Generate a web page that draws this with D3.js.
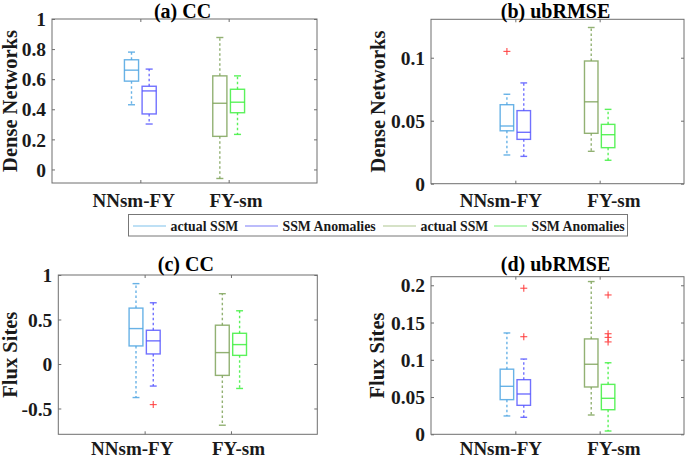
<!DOCTYPE html>
<html>
<head>
<meta charset="utf-8">
<script src="https://cdn.jsdelivr.net/npm/d3@7"></script>
<style>
  body { margin: 0; background: #fff; }
  svg { display: block; font-family: "Liberation Serif", "Times New Roman", serif; font-weight: bold; }
</style>
</head>
<body>
<div id="container"></div>
<script>
// categories and series
const groups = ['NNsm-FY', 'FY-sm'];
const seriesNames = ['actual SSM', 'SSM Anomalies', 'actual SSM', 'SSM Anomalies'];
const seriesColors = ['#4ea4e2', '#5858ff', '#7fa35a', '#3ef03e'];
const legendColors = ['#a8d6f2', '#a6a6fa', '#c8d8b4', '#a6f6a6'];

// box stats per box: [low whisker, q1, median, q3, high whisker]
// box order: NNsm-FY actual, NNsm-FY anomalies, FY-sm actual, FY-sm anomalies
const ccDense = [
  [0.43, 0.587, 0.66, 0.729, 0.78],
  [0.302, 0.369, 0.522, 0.553, 0.667],
  [-0.06, 0.22, 0.44, 0.622, 0.877],
  [0.233, 0.377, 0.447, 0.533, 0.622]
];
const ccDenseOut = [[], [], [], []];

const rmseDense = [
  [0.0228, 0.042, 0.0458, 0.0627, 0.071],
  [0.0217, 0.0352, 0.0408, 0.058, 0.080],
  [0.0257, 0.040, 0.065, 0.0974, 0.124],
  [0.0186, 0.0286, 0.0389, 0.0471, 0.059]
];
const rmseDenseOut = [[0.105], [], [], []];

const ccFlux = [
  [-0.377, 0.203, 0.398, 0.628, 0.903],
  [-0.248, 0.113, 0.26, 0.379, 0.688],
  [-0.688, -0.128, 0.128, 0.436, 0.79],
  [-0.275, 0.097, 0.218, 0.345, 0.598]
];
const ccFluxOut = [[], [-0.456], [], []];

const rmseFlux = [
  [0.0246, 0.0465, 0.0644, 0.0874, 0.136],
  [0.0228, 0.0389, 0.0541, 0.0733, 0.101],
  [0.0259, 0.0635, 0.094, 0.128, 0.205],
  [0.0044, 0.033, 0.0483, 0.067, 0.096]
];
const rmseFluxOut = [[], [0.196, 0.131], [], [0.187, 0.135, 0.130, 0.124]];

// tick values
const ticksCC1 = [0, 0.2, 0.4, 0.6, 0.8, 1];
const ticksRmse1 = [0, 0.05, 0.1];
const ticksCC2 = [-0.5, 0, 0.5, 1];
const ticksRmse2 = [0, 0.05, 0.1, 0.15, 0.2];

// group label centres (x units), they sit off the tick marks in the original
const labPosA = [0.925, 2.083];
const labPosB = [0.828, 2.169];
const labPosC = [0.857, 2.087];
const labPosD = [0.828, 2.169];

const panels = [
  { title: '(a) CC', ylabel: 'Dense Networks', stats: ccDense, out: ccDenseOut, ticks: ticksCC1, labPos: labPosA,
    domain: [-0.09, 1], x0: 52, x1: 317, y0: 19, y1: 183, titleY: 17.8, labY: 207, ylabX: 16.5 },
  { title: '(b) ubRMSE', ylabel: 'Dense Networks', stats: rmseDense, out: rmseDenseOut, ticks: ticksRmse1, labPos: labPosB,
    domain: [0, 0.1305], x0: 431, x1: 684, y0: 19.3, y1: 183.7, titleY: 17.8, labY: 207, ylabX: 384.5 },
  { title: '(c) CC', ylabel: 'Flux Sites', stats: ccFlux, out: ccFluxOut, ticks: ticksCC2, labPos: labPosC,
    domain: [-0.79, 1], x0: 58.3, x1: 317.3, y0: 275, y1: 434.3, titleY: 270.5, labY: 454.5, ylabX: 16.5 },
  { title: '(d) ubRMSE', ylabel: 'Flux Sites', stats: rmseFlux, out: rmseFluxOut, ticks: ticksRmse2, labPos: labPosD,
    domain: [0, 0.2115], x0: 431, x1: 684, y0: 276.7, y1: 434.3, titleY: 270.5, labY: 454.5, ylabX: 384 }
];

const width = 685, height = 459;
const svg = d3.select('#container').append('svg')
  .attr('width', width)
  .attr('height', height);

const boxOffset = [-0.1, 0.1, -0.1, 0.1];
const boxW = 0.16;

panels.forEach(drawPanel);
drawLegend();

function drawPanel(p) {
  const x = d3.scaleLinear().domain([0, 3]).range([p.x0, p.x1]);
  const y = d3.scaleLinear().domain(p.domain).range([p.y1, p.y0]);
  const g = svg.append('g');

  // boxes
  p.stats.forEach((s, i) => {
    const pos = Math.floor(i / 2) + 1 + boxOffset[i];
    const col = seriesColors[i];
    const bl = x(pos - boxW / 2), br = x(pos + boxW / 2), cx = x(pos);
    const cl = x(pos - boxW / 4), cr = x(pos + boxW / 4);
    const b = g.append('g')
      .attr('fill', 'none')
      .attr('stroke', col)
      .attr('stroke-width', 1.4)
      .attr('stroke-opacity', 0.85);

    // whiskers
    b.append('line')
      .attr('x1', cx).attr('x2', cx)
      .attr('y1', y(s[3])).attr('y2', y(s[4]))
      .attr('stroke-dasharray', '2.5,2.5');
    b.append('line')
      .attr('x1', cx).attr('x2', cx)
      .attr('y1', y(s[1])).attr('y2', y(s[0]))
      .attr('stroke-dasharray', '2.5,2.5');
    // caps
    [s[0], s[4]].forEach(v => {
      b.append('line')
        .attr('x1', cl).attr('x2', cr)
        .attr('y1', y(v)).attr('y2', y(v));
    });
    // box
    b.append('rect')
      .attr('x', bl).attr('y', y(s[3]))
      .attr('width', br - bl)
      .attr('height', y(s[1]) - y(s[3]));
    // median
    b.append('line')
      .attr('x1', bl).attr('x2', br)
      .attr('y1', y(s[2])).attr('y2', y(s[2]));

    // outliers
    p.out[i].forEach(v => {
      const oy = y(v);
      const m = g.append('g')
        .attr('stroke', '#ff3c3c')
        .attr('stroke-width', 1.2)
        .attr('stroke-opacity', 0.85);
      m.append('line').attr('x1', cx - 3.5).attr('x2', cx + 3.5).attr('y1', oy).attr('y2', oy);
      m.append('line').attr('x1', cx).attr('x2', cx).attr('y1', oy - 3.5).attr('y2', oy + 3.5);
    });
  });

  // frame
  g.append('rect')
    .attr('x', p.x0).attr('y', p.y0)
    .attr('width', p.x1 - p.x0)
    .attr('height', p.y1 - p.y0)
    .attr('fill', 'none')
    .attr('stroke', '#6e6e6e')
    .attr('stroke-width', 1);

  // axes with inward ticks
  const left = g.append('g')
    .attr('transform', `translate(${p.x0},0)`)
    .call(d3.axisLeft(y).tickValues(p.ticks).tickSize(-3).tickPadding(6).tickFormat(d => String(d)));
  g.append('g')
    .attr('transform', `translate(${p.x1},0)`)
    .call(d3.axisRight(y).tickValues(p.ticks).tickSize(-3).tickFormat(''));
  g.append('g')
    .attr('transform', `translate(0,${p.y1})`)
    .call(d3.axisBottom(x).tickValues([1, 2]).tickSize(-3).tickFormat(''));
  g.append('g')
    .attr('transform', `translate(0,${p.y0})`)
    .call(d3.axisTop(x).tickValues([1, 2]).tickSize(-3).tickFormat(''));

  g.selectAll('.domain').remove();
  g.selectAll('.tick line').attr('stroke', '#6e6e6e');
  left.selectAll('.tick text')
    .attr('font-size', 19.5)
    .attr('font-family', '"Liberation Serif", serif')
    .attr('font-weight', 'bold')
    .attr('fill', '#1a1a1a')
    .attr('dy', '0.34em');

  // category labels
  groups.forEach((name, i) => {
    g.append('text')
      .attr('x', x(p.labPos[i]))
      .attr('y', p.labY)
      .attr('text-anchor', 'middle')
      .attr('font-size', 19)
      .attr('fill', '#1a1a1a')
      .text(name);
  });

  // title
  g.append('text')
    .attr('x', (p.x0 + p.x1) / 2 - 2)
    .attr('y', p.titleY)
    .attr('text-anchor', 'middle')
    .attr('font-size', 20)
    .attr('fill', '#000')
    .text(p.title);

  // y label
  g.append('text')
    .attr('transform', `translate(${p.ylabX},${(p.y0 + p.y1) / 2}) rotate(-90)`)
    .attr('text-anchor', 'middle')
    .attr('font-size', 20.5)
    .attr('fill', '#1a1a1a')
    .text(p.ylabel);
}

function drawLegend() {
  const lg = svg.append('g');
  lg.append('rect')
    .attr('x', 128.5).attr('y', 214.5)
    .attr('width', 499).attr('height', 21.5)
    .attr('fill', '#fff')
    .attr('stroke', '#777')
    .attr('stroke-width', 1);

  const lineX = [133, 245, 383, 494];
  seriesNames.forEach((name, i) => {
    lg.append('line')
      .attr('x1', lineX[i]).attr('x2', lineX[i] + 33)
      .attr('y1', 226).attr('y2', 226)
      .attr('stroke', legendColors[i])
      .attr('stroke-width', 1.4);
    lg.append('text')
      .attr('x', lineX[i] + 37.5)
      .attr('y', 230.5)
      .attr('font-size', 13.8)
      .attr('fill', '#1a1a1a')
      .text(name);
  });
}
</script>
</body>
</html>
